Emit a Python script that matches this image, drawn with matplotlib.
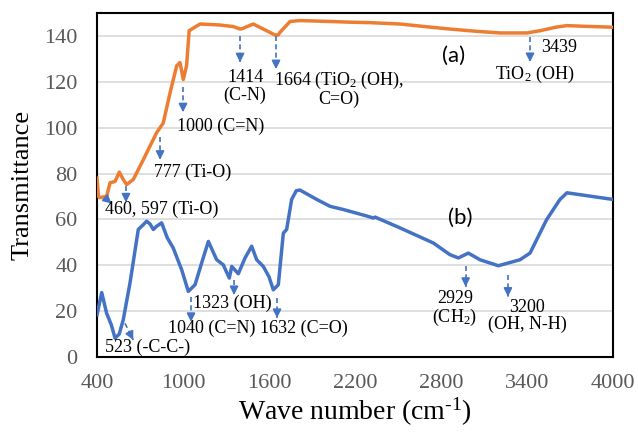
import matplotlib
matplotlib.use('Agg')
import matplotlib.pyplot as plt

plt.rcParams['font.family'] = ['Liberation Serif', 'DejaVu Serif']
plt.rcParams['mathtext.fontset'] = 'custom'
plt.rcParams['mathtext.rm'] = 'Liberation Serif'
plt.rcParams['mathtext.it'] = 'Liberation Serif:italic'

ORANGE = '#ED7D31'
BLUE = '#4472C4'

# spectrum (a)
wn_a = [400, 410, 420, 445, 467, 491, 525, 556, 583, 607, 653, 723, 770, 816,
        862, 909, 956, 979, 1002, 1025, 1043, 1119, 1250, 1350, 1398, 1414,
        1490, 1583, 1642, 1664, 1677, 1747, 1816, 2026, 2165, 2300, 2514,
        2700, 2863, 3050, 3214, 3400, 3493, 3600, 3679, 3800, 4000]
tr_a = [78, 70, 69.5, 69.8, 70, 76, 76.5, 80.6, 77.4, 75.2, 77.4, 86, 92, 97.8,
        102, 115, 127, 128.4, 121, 127, 142.3, 145.2, 144.8, 144.1, 143, 143.2,
        145.2, 142.3, 140.4, 140.4, 141.6, 146.3, 146.7, 146.3, 146, 145.8, 145.2,
        144, 143, 142, 141.3, 141.3, 142.3, 143.8, 144.5, 144.2, 143.8]

# spectrum (b)
wn_b = [400, 433, 467, 500, 526, 555, 583, 630, 688, 720, 746, 770, 793, 816,
        851, 890, 932, 991, 1037, 1084, 1130, 1177, 1235, 1281, 1323, 1340,
        1386, 1433, 1479, 1514, 1560, 1600, 1630, 1665, 1700, 1723, 1758, 1790,
        1816, 1933, 2026, 2119, 2281, 2328, 2340, 2514, 2747, 2863, 2921, 2991,
        3072, 3200, 3351, 3421, 3537, 3630, 3679, 3800, 4000]
tr_b = [18.4, 28.1, 19.1, 14, 8.2, 10, 16.2, 32.2, 55.6, 57.5, 59.2, 58, 55.6, 57,
        58.5, 52, 47.5, 38, 28.6, 31.5, 41, 50.4, 42.4, 40.2, 34.4, 39.5,
        36.3, 43.2, 48.3, 42.4, 39.5, 35, 29.3, 31.5, 54, 55.6, 68.7, 72.5,
        72.8, 68.7, 65.7, 64.3, 61.5, 60.6, 61, 56.3, 49.7, 44.6, 43.2, 45.3,
        42.4, 39.8, 42.4, 45.3, 59.9, 68.7, 71.6, 70.5, 68.7]

# peak labels: text, x, y, ha
labels = [
    ('1414\n(C-N)', 1433, 118, 'center'),
    ('1664 (TiO$_2$ (OH),\nC=O)', 2088, 117, 'center'),
    ('1000 (C=N)', 1265, 100.6, 'center'),
    ('777 (Ti-O)', 1070, 80.5, 'center'),
    ('460, 597 (Ti-O)', 853, 64.3, 'center'),
    ('3439', 3498, 135, 'left'),
    ('TiO$_2$ (OH)', 3456, 123.4, 'center'),
    ('2929\n(CH$_2$)', 2898, 21, 'center'),
    ('3200\n(OH, N-H)', 3128, 18, 'left'),
    ('1323 (OH)', 1342, 23.2, 'center'),
    ('1040 (C=N)', 1203, 12.7, 'center'),
    ('1632 (C=O)', 1844, 12.7, 'center'),
    ('523 (-C-C-)', 752, 4.4, 'center'),
]

# arrows: (x0, y0) -> (x1, y1)
arrows = [
    ((1398, 140), (1398, 128.5)),
    ((1649, 140), (1649, 125.5)),
    ((1000, 117.7), (1000, 106.7)),
    ((840, 96), (840, 86)),
    ((456, 69.4), (502, 66.9)),
    ((602, 74.4), (602, 67.4)),
    ((3421, 139.5), (3421, 128.6)),
    ((2972, 39.8), (2972, 30.6)),
    ((3267, 35.9), (3267, 26.3)),
    ((1356, 33.7), (1356, 27)),
    ((1056, 26.3), (1056, 15.3)),
    ((1656, 25.8), (1656, 17)),
    ((595, 14.7), (653, 7.4)),
]

fig = plt.figure(figsize=(6.38, 4.33), dpi=100)
ax = fig.add_axes([97 / 638, 1 - 357 / 433, 516 / 638, 344 / 433])

ax.plot(wn_a, tr_a, color=ORANGE, lw=2.5, zorder=3)
ax.plot(wn_b, tr_b, color=BLUE, lw=2.5, zorder=3)

for (x0, y0), (x1, y1) in arrows:
    ax.plot([x0, x1], [y0, y1], ls=(0, (3, 2)), color=BLUE, lw=1.2, zorder=4)
    fx = x0 + 0.75 * (x1 - x0)
    fy = y0 + 0.75 * (y1 - y0)
    ax.annotate('', xy=(x1, y1), xytext=(fx, fy),
                arrowprops=dict(arrowstyle='-|>,head_length=0.5,head_width=0.25',
                                color=BLUE, lw=1.2, shrinkA=0, shrinkB=0),
                zorder=4)

for txt, x, y, ha in labels:
    ax.text(x, y, txt, ha=ha, va='center', fontsize=13, linespacing=1.0,
            multialignment='center', zorder=5)

ax.text(2886, 131.4, '(a)', fontsize=16, family=['Lato', 'DejaVu Sans'],
        ha='center', va='center')
ax.text(2933, 60.8, '(b)', fontsize=16, family=['Lato', 'DejaVu Sans'],
        ha='center', va='center')

ax.set_xlim(400, 4000)
ax.set_ylim(0, 150)
ax.set_xticks(range(400, 4001, 600))
ax.set_yticks(range(0, 141, 20))
ax.grid(axis='y', color='#d9d9d9', lw=1.2)
ax.set_axisbelow(True)
ax.tick_params(length=0, labelsize=16, colors='#595959')
ax.tick_params(axis='y', pad=14)
ax.tick_params(axis='x', pad=12)
for s in ax.spines.values():
    s.set_linewidth(1.5)
    s.set_color('black')

ax.set_xlabel('Wave number (cm$^{\\text{-1}}$)', fontsize=20, labelpad=2)
ax.set_ylabel('Transmittance', fontsize=19, labelpad=8)

fig.savefig('out.png', dpi=100)
